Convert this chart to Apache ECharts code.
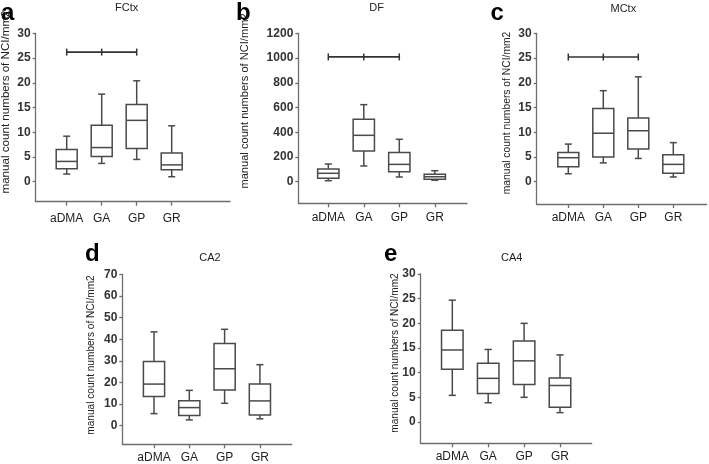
<!DOCTYPE html>
<html>
<head>
<meta charset="utf-8">
<script src="https://cdn.jsdelivr.net/npm/echarts@6/dist/echarts.min.js"></script>
<style>
html,body{margin:0;padding:0;background:#fff;}
#chart{width:709px;height:464px;}
</style>
</head>
<body>
<div id="chart"></div>
<script>
// ---------- DATA ----------
const categories = ['aDMA', 'GA', 'GP', 'GR'];
// each box: [min, Q1, median, Q3, max]
const fctxBoxes = [[1.55, 2.6, 4.1, 6.5, 9.2], [3.7, 5.1, 6.9, 11.4, 17.7], [4.5, 6.7, 12.4, 15.6, 20.4], [1.0, 2.4, 3.4, 5.8, 11.3]];
const dfBoxes   = [[8, 27, 68, 103, 143], [127, 248, 375, 504, 623], [38, 81, 140, 237, 343], [12, 19, 40, 60, 89]];
const mctxBoxes = [[1.6, 3.0, 4.85, 5.9, 7.6], [3.8, 5.0, 9.8, 14.8, 18.4], [4.7, 6.6, 10.3, 12.9, 21.2], [0.95, 1.7, 3.5, 5.46, 7.9]];
const ca2Boxes  = [[5.5, 13.5, 19.2, 29.7, 43.4], [2.6, 4.6, 8.3, 11.5, 16.3], [10.3, 16.5, 26.3, 38.0, 44.6], [3.1, 4.9, 11.4, 19.2, 28.2]];
const ca4Boxes  = [[5.4, 10.7, 14.6, 18.6, 24.7], [3.9, 5.8, 8.85, 11.9, 14.7], [5.0, 7.6, 12.4, 16.4, 20.0], [1.9, 3.0, 7.4, 8.9, 13.6]];
// significance brackets (aDMA - GA - GP)
const fctxBracket = [26.2, 26.2, 26.2];
const dfBracket   = [1009, 1009, 1009];
const mctxBracket = [25.2, 25.2, 25.2];
// y tick labels
const fctxTicks = [0, 5, 10, 15, 20, 25, 30];
const dfTicks   = [0, 200, 400, 600, 800, 1000, 1200];
const mctxTicks = [0, 5, 10, 15, 20, 25, 30];
const ca2Ticks  = [0, 10, 20, 30, 40, 50, 60, 70];
const ca4Ticks  = [0, 5, 10, 15, 20, 25, 30];
const yTitle = 'manual count numbers of NCI/mm2';
const panelTitles = ['FCtx', 'DF', 'MCtx', 'CA2', 'CA4'];
const panelLetters = ['a', 'b', 'c', 'd', 'e'];

// ---------- LAYOUT (pixels) ----------
const layouts = [
  {l: 35.7, r: 230, t: 33.3, b: 201.7, zero: 181.7, c0: 66.7, step: 35, lblMargin: 11,
   letter: [1, 13.5], title: [126.7, 7.5], yt: [6, 102, 11.6]},
  {l: 298.3, r: 467, t: 33.3, b: 203.3, zero: 181.7, c0: 328.3, step: 35.5, lblMargin: 8,
   letter: [236, 13.5], title: [376.7, 7.5], yt: [245, 101, 11.1]},
  {l: 536.7, r: 706.7, t: 33.3, b: 204, zero: 181.7, c0: 568.3, step: 35, lblMargin: 8,
   letter: [490.5, 13.5], title: [623.3, 8.5], yt: [506.7, 113, 10.3]},
  {l: 122.3, r: 291.7, t: 274.5, b: 444.3, zero: 425.5, c0: 154, step: 35.3, lblMargin: 7,
   letter: [85, 254.5], title: [210, 258], yt: [91.7, 355, 10.1]},
  {l: 420.7, r: 591.7, t: 274, b: 443.3, zero: 422, c0: 452.3, step: 35.9, lblMargin: 7,
   letter: [384, 254.5], title: [511.7, 258], yt: [395, 353, 10.1]}
];
const boxesList = [fctxBoxes, dfBoxes, mctxBoxes, ca2Boxes, ca4Boxes];
const bracketList = [fctxBracket, dfBracket, mctxBracket, null, null];
const tickList = [fctxTicks, dfTicks, mctxTicks, ca2Ticks, ca4Ticks];

const FONT = '"Liberation Sans", Arial, Helvetica, sans-serif';
const AXIS_COLOR = '#6e6e6e';
const BOX_COLOR = '#4a4a4a';

function renderBox(params, api) {
  const idx = api.value(0);
  const pts = [1, 2, 3, 4, 5].map(function (d) { return api.coord([idx, api.value(d)]); });
  const cx = pts[0][0];
  const band = api.size([1, 0])[0];
  const hw = band * 0.3, cw = band * 0.1;
  const st = {stroke: BOX_COLOR, lineWidth: 1.5, fill: null};
  return {
    type: 'group',
    children: [
      {type: 'line', shape: {x1: cx, y1: pts[0][1], x2: cx, y2: pts[1][1]}, style: st},
      {type: 'line', shape: {x1: cx, y1: pts[3][1], x2: cx, y2: pts[4][1]}, style: st},
      {type: 'line', shape: {x1: cx - cw, y1: pts[0][1], x2: cx + cw, y2: pts[0][1]}, style: st},
      {type: 'line', shape: {x1: cx - cw, y1: pts[4][1], x2: cx + cw, y2: pts[4][1]}, style: st},
      {type: 'rect', shape: {x: cx - hw, y: pts[3][1], width: 2 * hw, height: pts[1][1] - pts[3][1]},
       style: {stroke: BOX_COLOR, lineWidth: 1.5, fill: '#fff'}},
      {type: 'line', shape: {x1: cx - hw, y1: pts[2][1], x2: cx + hw, y2: pts[2][1]}, style: st}
    ]
  };
}

const grid = [], xAxis = [], yAxis = [], series = [], graphic = [];
layouts.forEach(function (L, p) {
  const fi = p * 2, di = p * 2 + 1;
  const ticks = tickList[p];
  const dataLeft = L.c0 - L.step / 2;
  grid.push({left: L.l, top: L.t, width: L.r - L.l, height: L.b - L.t});
  grid.push({left: dataLeft, top: L.t, width: L.step * 4, height: L.zero - L.t});

  xAxis.push({gridIndex: fi, type: 'value', min: 0, max: 1, silent: true,
    axisLine: {show: true, onZero: false, lineStyle: {color: AXIS_COLOR, width: 1.3}},
    axisTick: {show: false}, axisLabel: {show: false}, splitLine: {show: false}});
  yAxis.push({gridIndex: fi, type: 'value', min: 0, max: 1, silent: true,
    axisLine: {show: true, onZero: false, lineStyle: {color: AXIS_COLOR, width: 1.3}},
    axisTick: {show: false}, axisLabel: {show: false}, splitLine: {show: false}});

  xAxis.push({gridIndex: di, type: 'category', data: categories, offset: L.b - L.zero,
    axisLine: {show: false, onZero: false},
    axisTick: {show: true, interval: 0, alignWithLabel: true, length: 4, lineStyle: {color: AXIS_COLOR, width: 1.3}},
    axisLabel: {interval: 0, margin: L.lblMargin, fontSize: 12, color: '#222', fontFamily: FONT},
    splitLine: {show: false}});
  yAxis.push({gridIndex: di, type: 'value', min: ticks[0], max: ticks[ticks.length - 1],
    interval: ticks[1] - ticks[0], offset: dataLeft - L.l,
    axisLine: {show: false},
    axisTick: {show: true, length: 3, lineStyle: {color: AXIS_COLOR, width: 1.3}},
    axisLabel: {margin: 5, fontSize: 12, color: '#333', fontWeight: 'bold', fontFamily: FONT,
      formatter: function (v) { return String(v); }},
    splitLine: {show: false}});

  series.push({type: 'custom', xAxisIndex: di, yAxisIndex: di, renderItem: renderBox,
    encode: {x: 0, y: [1, 2, 3, 4, 5]},
    data: boxesList[p].map(function (b, i) { return [i].concat(b); }), silent: true});
  if (bracketList[p]) {
    series.push({type: 'line', xAxisIndex: di, yAxisIndex: di, data: bracketList[p],
      symbol: 'rect', symbolSize: [1.5, 7], showSymbol: true, silent: true,
      itemStyle: {color: '#333'}, lineStyle: {color: '#333', width: 1.6}, animation: false});
  }

  graphic.push({type: 'text', x: L.letter[0], y: L.letter[1],
    style: {text: panelLetters[p], font: 'bold 24px ' + FONT, fill: '#000',
      textAlign: 'left', textVerticalAlign: 'middle', align: 'left', verticalAlign: 'middle'}});
  graphic.push({type: 'text', x: L.title[0], y: L.title[1],
    style: {text: panelTitles[p], font: '11px ' + FONT, fill: '#222',
      textAlign: 'center', textVerticalAlign: 'middle', align: 'center', verticalAlign: 'middle'}});
  graphic.push({type: 'text', x: L.yt[0], y: L.yt[1], rotation: Math.PI / 2,
    style: {text: yTitle, font: L.yt[2] + 'px ' + FONT, fill: '#222',
      textAlign: 'center', textVerticalAlign: 'middle', align: 'center', verticalAlign: 'middle'}});
});

const chart = echarts.init(document.getElementById('chart'), null, {renderer: 'canvas'});
chart.setOption({
  animation: false,
  backgroundColor: '#fff',
  grid: grid, xAxis: xAxis, yAxis: yAxis, series: series, graphic: graphic
});
</script>
</body>
</html>
